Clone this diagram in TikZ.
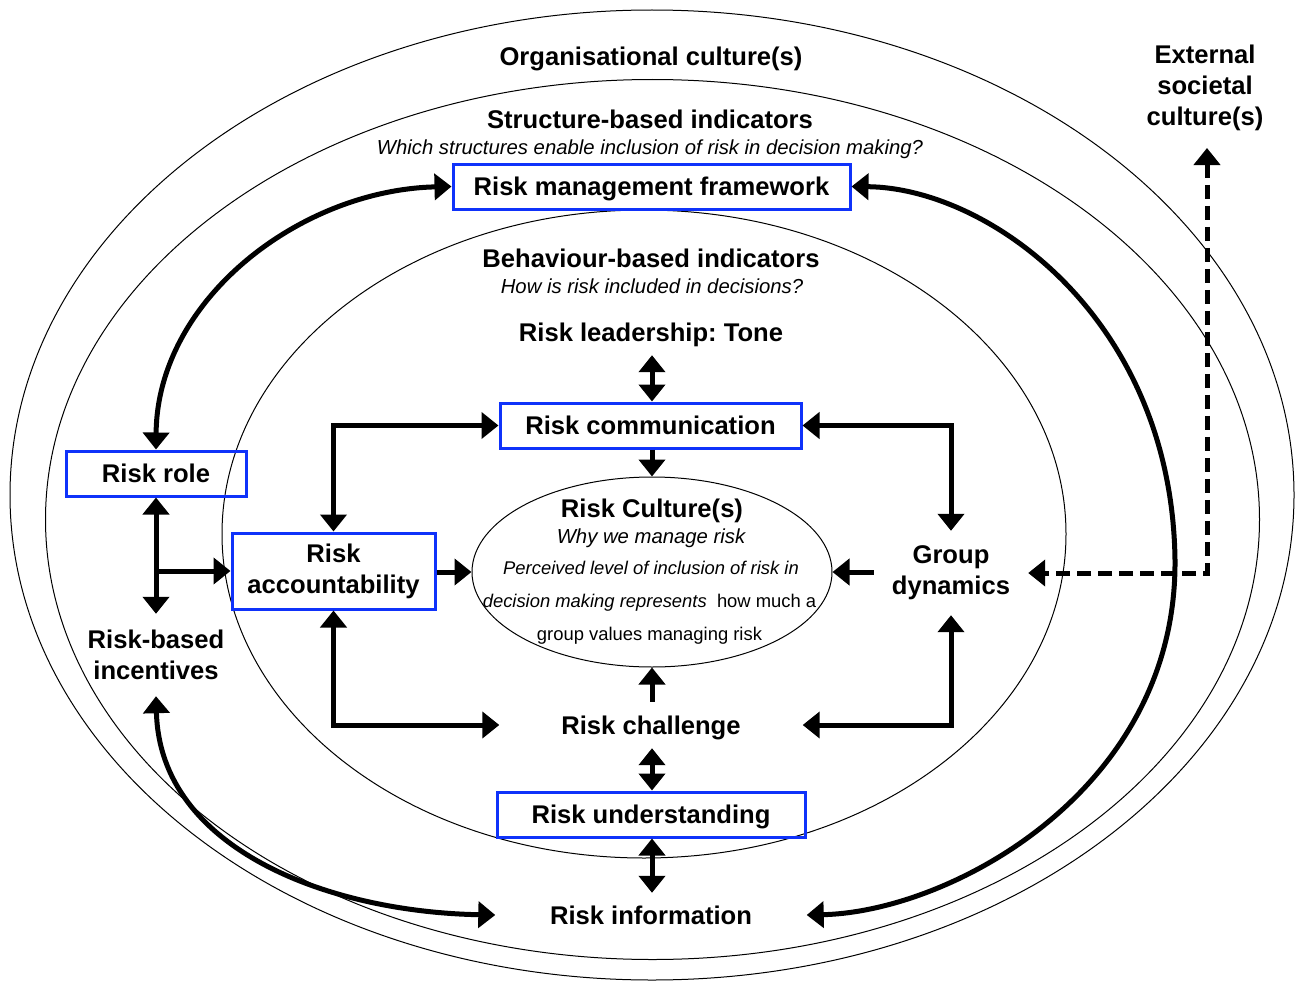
\documentclass[tikz,border=0pt]{standalone}
\usepackage{fontspec}
\setmainfont{Liberation Sans}
\usetikzlibrary{arrows.meta,shapes.geometric}
\definecolor{boxblue}{RGB}{15,50,250}
\frenchspacing
\begin{document}
\begin{tikzpicture}[x=1pt,y=-1pt,
  Tri/.tip={Triangle[length=17pt,width=26pt]},
  lbl/.style={font=\fontsize{25.6}{31}\selectfont\bfseries, inner sep=0pt, align=center},
  one/.style={text height=18.3pt, text depth=0pt},
  itl/.style={font=\fontsize{20.3}{24}\selectfont\itshape, inner sep=0pt, text height=14.5pt, text depth=0pt},
  sml/.style={font=\fontsize{18.4}{22}\selectfont, inner sep=0pt, text height=13.2pt, text depth=0pt},
  bbox/.style={lbl, draw=boxblue, line width=3pt},
  ring/.style={draw=black, line width=1pt},
  sgl/.style={line width=5pt, -Tri},
  dbl/.style={line width=5pt, Tri-Tri},
  dsh/.style={line width=5pt, Tri-Tri, dash pattern=on 14pt off 7pt}
]
\useasboundingbox (0,0) rectangle (1296,982);
\fill[white] (0,0) rectangle (1296,982);

% rings
\draw[ring] (652,495) ellipse [x radius=642, y radius=485];
\draw[ring] (652.5,519.5) ellipse [x radius=607, y radius=440];
\draw[ring] (644,534) ellipse [x radius=422, y radius=324];

% titles
\node[lbl, one] (org) at (651,56) {Organisational culture(s)};
\node[lbl, one] (sbi) at (650,119) {Structure-based indicators};
\node[itl] (sbq) at (650,147) {Which structures enable inclusion of risk in decision making?};
\node[lbl, one] (bbi) at (651,258) {Behaviour-based indicators};
\node[itl] (bbq) at (652,286) {How is risk included in decisions?};
\node[lbl] (ext) at (1205,88) {External\\societal\\culture(s)};
\coordinate (extin) at (1207,148);

% nodes
\node[bbox, one, minimum width=397, minimum height=45] (rmf) at (651.5,186.5) {Risk management framework};
\node[lbl, one, minimum height=46] (tone) at (651,332) {Risk leadership: Tone};
\node[bbox, one, minimum width=301, minimum height=45] (rcom) at (650.5,425.5) {Risk communication};
\node[ellipse, ring, minimum width=360, minimum height=190, inner sep=0pt] (cult) at (652,572) {};
\node[lbl, one] (culttitle) at (652,508) {Risk Culture(s)};
\node[itl] (cultwhy) at (651,536) {Why we manage risk};
\node[sml] (cult1) at (651,568) {\itshape Perceived level of inclusion of risk in};
\node[sml] (cult2) at (649.5,601) {\itshape decision making represents\ \ \upshape how much a};
\node[sml] (cult3) at (649.5,634) {group values managing risk};
\node[bbox, one, minimum width=180, minimum height=45] (rrole) at (156,473.5) {Risk role};
\node[bbox, minimum width=203, minimum height=76] (racc) at (333.5,571) {Risk\\accountability};
\node[lbl, minimum height=82] (rinc) at (156,655) {Risk-based\\incentives};
\node[lbl, minimum width=154, minimum height=84] (gd) at (951,573) {Group\\dynamics};
\node[lbl, one, minimum width=303, minimum height=46] (rch) at (651,725) {Risk challenge};
\node[bbox, one, minimum width=308, minimum height=45] (run) at (651,814.5) {Risk understanding};
\node[lbl, one, minimum width=311, minimum height=44] (rinf) at (651,915) {Risk information};

% connectors
\draw[dbl] (cult.north |- tone.south) -- (cult.north |- rcom.north);
\draw[sgl] (cult.north |- rcom.south) -- (cult.north);
\draw[dbl] (racc.north) |- (rcom.west);
\draw[dbl] (gd.north) |- (rcom.east);
\draw[sgl] (gd.west |- cult.east) -- (cult.east);
\draw[sgl] (racc.east |- cult.west) -- (cult.west);
\draw[dbl] (racc.south) |- (rch.west);
\draw[dbl] (gd.south) |- (rch.east);
\draw[sgl] (rch.north -| cult.south) -- (cult.south);
\draw[dbl] (cult.south |- rch.south) -- (cult.south |- run.north);
\draw[dbl] (cult.south |- run.south) -- (cult.south |- rinf.north);
\draw[dbl] (rrole.south) -- (rinc.north);
\draw[sgl] (rrole.south |- racc.west) -- (racc.west);

% curved connectors
\draw[dbl] (rrole.north) .. controls (157,300) and (300,190) .. (rmf.west);
\draw[dbl] (rinc.south) .. controls (160,850) and (330,912) .. (rinf.west);
\draw[dbl] (rmf.east) .. controls (990,188) and (1172,320) .. (1175,560) .. controls (1177,790) and (950,912) .. (rinf.east);

% external culture
\draw[dsh] (extin) |- (gd.east -| gd.east);
\end{tikzpicture}
\end{document}
